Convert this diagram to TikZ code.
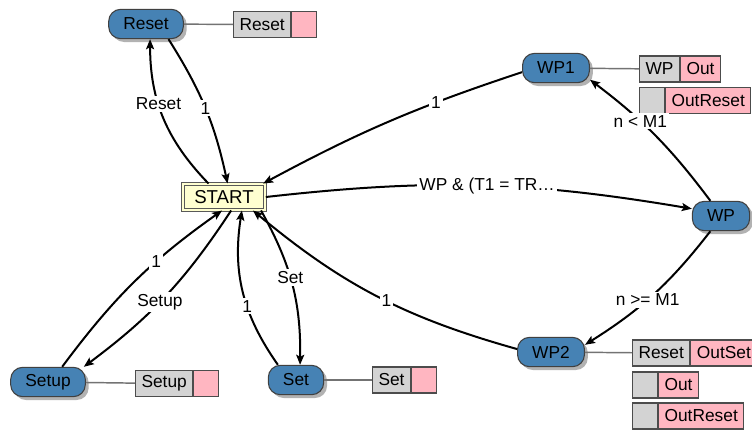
\documentclass[tikz,border=0pt]{standalone}
\usepackage{fontspec}
\setmainfont{Liberation Sans}
\usepackage{tikz}
\usetikzlibrary{shapes.geometric, arrows.meta, shadows}
\definecolor{statefill}{RGB}{70,130,180}
\definecolor{startfill}{RGB}{255,255,208}
\definecolor{infill}{RGB}{211,211,211}
\definecolor{outfill}{RGB}{255,182,193}
\tikzstyle{state} = [rectangle,
					 rounded corners=9pt,
					 minimum height=22pt,
					 inner xsep=11pt,
					 text centered,
					 text=black,
					 draw=black!75,
					 line width=0.8pt,
					 fill=statefill,
					 font=\fontsize{13}{15}\selectfont,
					 drop shadow={shadow xshift=2.5pt, shadow yshift=-2.5pt, opacity=0.3, fill=black},
					]
\tikzstyle{startstate} = [rectangle,
					      minimum width=62pt,
					      minimum height=19.5pt,
					      text centered,
					      text=black,
					      draw=black!65,
					      line width=0.7pt,
					      double=startfill,
					      double distance=1.6pt,
					      fill=startfill,
					      font=\fontsize{14}{16}\selectfont,
					     ]
\tikzstyle{inbox} = [rectangle,
					 minimum width=18.75pt,
					 minimum height=19.5pt,
					 inner xsep=4.5pt,
					 text=black,
					 draw=black!70,
					 line width=0.8pt,
					 fill=infill,
					 anchor=west,
					 font=\fontsize{13}{15}\selectfont,
					]
\tikzstyle{outbox} = [inbox, fill=outfill]
\tikzstyle{arrow} = [line width=1.5pt,->,>={Stealth[length=7.5pt,width=6pt,inset=1.5pt]}]
\tikzstyle{link} = [line width=1.1pt, draw=black!55]
\tikzstyle{lbl} = [fill=white, inner sep=1.5pt, text=black, font=\fontsize{13}{15}\selectfont]

\begin{document}
\begin{tikzpicture}[x=0.75pt, y=-0.75pt]
\useasboundingbox (0,0) rectangle (752,430);

\node (start) [startstate] at (224,197) {START};
\node (reset) [state] at (146,24) {Reset};
\node (wp1) [state] at (556,68) {WP1};
\node (wp) [state] at (721,216) {WP};
\node (wp2) [state] at (551,352) {WP2};
\node (setup) [state] at (48,382) {Setup};
\node (set) [state] at (296,380) {Set};

% outputs next to each state
\node (reset_in) [inbox] at (233,24.5) {Reset};
\node (reset_out) [outbox] at (reset_in.east) {};
\node (wp1_in) [inbox] at (639,69) {WP};
\node (wp1_out) [outbox] at (wp1_in.east) {Out};
\node (wp1_in2) [inbox] at (639,100.5) {};
\node (wp1_out2) [outbox] at (wp1_in2.east) {OutReset};
\node (wp2_in) [inbox] at (632,353) {Reset};
\node (wp2_out) [outbox] at (wp2_in.east) {OutSet};
\node (wp2_in2) [inbox] at (632,385) {};
\node (wp2_out2) [outbox] at (wp2_in2.east) {Out};
\node (wp2_in3) [inbox] at (632,416) {};
\node (wp2_out3) [outbox] at (wp2_in3.east) {OutReset};
\node (setup_in) [inbox] at (135,383.5) {Setup};
\node (setup_out) [outbox] at (setup_in.east) {};
\node (set_in) [inbox] at (372,380) {Set};
\node (set_out) [outbox] at (set_in.east) {};

\draw [link] (reset) -- (reset_in);
\draw [link] (wp1) -- (wp1_in);
\draw [link] (wp2) -- (wp2_in);
\draw [link] (setup) -- (setup_in);
\draw [link] (set) -- (set_in);

\draw [arrow] (start.139) to [bend left=22] node [lbl, pos=0.6] {Reset} (reset.285);
\draw [arrow] (reset.326) to [bend left=10] node [lbl, pos=0.5] {1} (start.75);
\draw [arrow] (wp1.187) to [bend right=5] node [lbl, pos=0.31] {1} (start.19);
\draw [arrow] (start.east) to [bend left=8] node [lbl, pos=0.52] {WP \& (T1 = TR…} (wp.166);
\draw [arrow] (wp.125) to [bend right=8] node [lbl, pos=0.63] {n < M1} (wp1.341);
\draw [arrow] (wp.235) to [bend left=10] node [lbl, pos=0.55] {n >= M1} (wp2.12);
\draw [arrow] (wp2.175) to [bend left=12] node [lbl, pos=0.46] {1} (start.335);
\draw [arrow] (start.340) to [bend left=15] node [lbl, pos=0.45] {Set} (set.75);
\draw [arrow] (set.140) to [bend left=22] node [lbl, pos=0.4] {1} (start.323);
\draw [arrow] (setup.47) to [bend left=9] node [lbl, pos=0.64] {1} (start.262);
\draw [arrow] (start.298) to [bend left=10] node [lbl, pos=0.54] {Setup} (setup.23);

\end{tikzpicture}
\end{document}
